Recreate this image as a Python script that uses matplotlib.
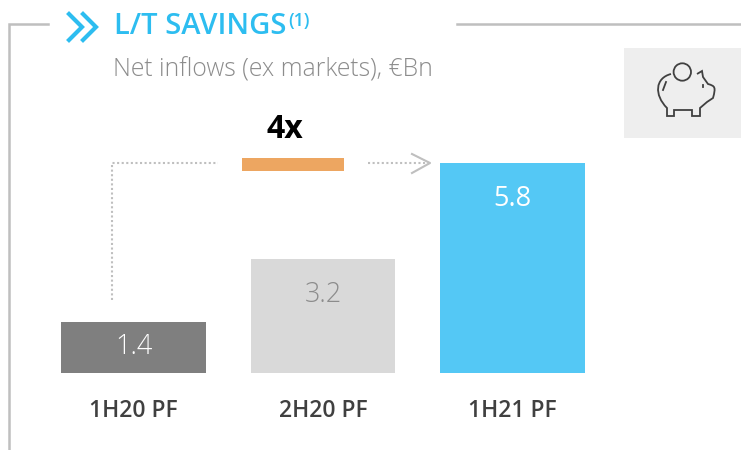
import matplotlib
matplotlib.use('Agg')
import matplotlib.pyplot as plt
from matplotlib.patches import Circle, PathPatch, Rectangle
from matplotlib.path import Path

categories = ['1H20 PF', '2H20 PF', '1H21 PF']
values = [1.4, 3.15, 5.8]
labels = ['1.4', '3.2', '5.8']
bar_colors = ['#7f7f7f', '#d9d9d9', '#54c8f5']
label_colors = ['#ffffff', '#8c8c8c', '#ffffff']
label_weights = ['light', 'light', 'normal']

W, H = 741, 450
plt.rcParams['font.family'] = ['Open Sans', 'DejaVu Sans']

fig = plt.figure(figsize=(W / 100, H / 100), dpi=100)

# overlay in pixel coords, y going down like the picture
bg = fig.add_axes([0, 0, 1, 1])
bg.set_xlim(0, W)
bg.set_ylim(H, 0)
bg.axis('off')

# bars
ax = fig.add_axes([38.75 / W, (H - 373) / H, 568.5 / W, 217.2 / H])
ax.patch.set_alpha(0)
ax.bar(range(3), values, width=0.765, color=bar_colors)
ax.set_xlim(-0.5, 2.5)
ax.set_ylim(0, 6)
ax.set_yticks([])
ax.set_xticks(range(3))
ax.set_xticklabels(categories, fontsize=16.5, fontweight='semibold', color='#404040')
ax.tick_params(axis='x', length=0, pad=18.5)
for s in ax.spines.values():
    s.set_visible(False)

for i in range(3):
    # top bars carry the label near the top, small one centred
    y = values[i] / 2 + 0.03 if i == 0 else values[i] - 0.985
    ax.text(i, y, labels[i], ha='center', va='center', fontsize=19.5,
            color=label_colors[i], fontweight=label_weights[i])

# frame
frame = '#bfbfbf'
bg.plot([48, 9, 9], [24, 24, 450], color=frame, lw=1.8, solid_joinstyle='miter')
bg.plot([457, 741], [24, 24], color=frame, lw=1.8)

# chevrons
blue = '#2dbdf0'
bg.plot([69, 82, 69], [14, 27, 40], color=blue, lw=3, solid_joinstyle='miter')
bg.plot([83, 96, 83], [14, 27, 40], color=blue, lw=3, solid_joinstyle='miter')

# titles
bg.text(114, 26.5, 'L/T SAVINGS', fontsize=21, fontweight='semibold', color=blue, va='center', ha='left')
bg.text(288, 21, '(1)', fontsize=13, fontweight='semibold', color=blue, va='center', ha='left')
bg.text(113, 70, 'Net inflows (ex markets), €Bn', fontsize=17.8, color='#8c8c8c', va='center',
        ha='left', fontweight='light')

# growth marker
bg.text(285, 130, '4x', fontsize=23, fontweight='bold', color='black', ha='center', va='center')
bg.add_patch(Rectangle((242, 158), 102, 13, color='#eda661', lw=0))
dots = (0, (1, 1.2))
bg.plot([112, 112, 218], [300, 163, 163], color=frame, lw=1.5, linestyle=dots)
bg.plot([368, 428], [163, 163], color=frame, lw=1.5, linestyle=dots)
bg.plot([412, 430, 412], [154, 163, 173], color=frame, lw=1.5)

# piggy icon
bg.add_patch(Rectangle((624, 48), 117, 90, color='#eeeeee', lw=0))
icon = '#404040'
body = Path(
    [(671, 74), (655, 78), (654, 95), (667, 108),
     (667, 116), (674, 116), (674, 110), (692, 110), (692, 116), (700, 116), (700, 108),
     (707, 102), (713, 98), (716, 87), (715, 86), (708, 84), (703, 77), (702, 71), (697, 74)],
    [Path.MOVETO, Path.CURVE4, Path.CURVE4, Path.CURVE4,
     Path.LINETO, Path.LINETO, Path.LINETO, Path.LINETO, Path.LINETO, Path.LINETO, Path.LINETO,
     Path.LINETO, Path.LINETO, Path.CURVE4, Path.CURVE4, Path.LINETO, Path.LINETO, Path.LINETO, Path.LINETO],
)
bg.add_patch(PathPatch(body, fill=False, edgecolor=icon, lw=1.3))
bg.add_patch(Circle((682.3, 72), 8.7, fill=False, edgecolor=icon, lw=1.3))
bg.plot([666, 663], [82, 90], color=icon, lw=1.3)
bg.plot([703, 703], [85, 87], color=icon, lw=1.3)

fig.savefig('out.png', dpi=100)
